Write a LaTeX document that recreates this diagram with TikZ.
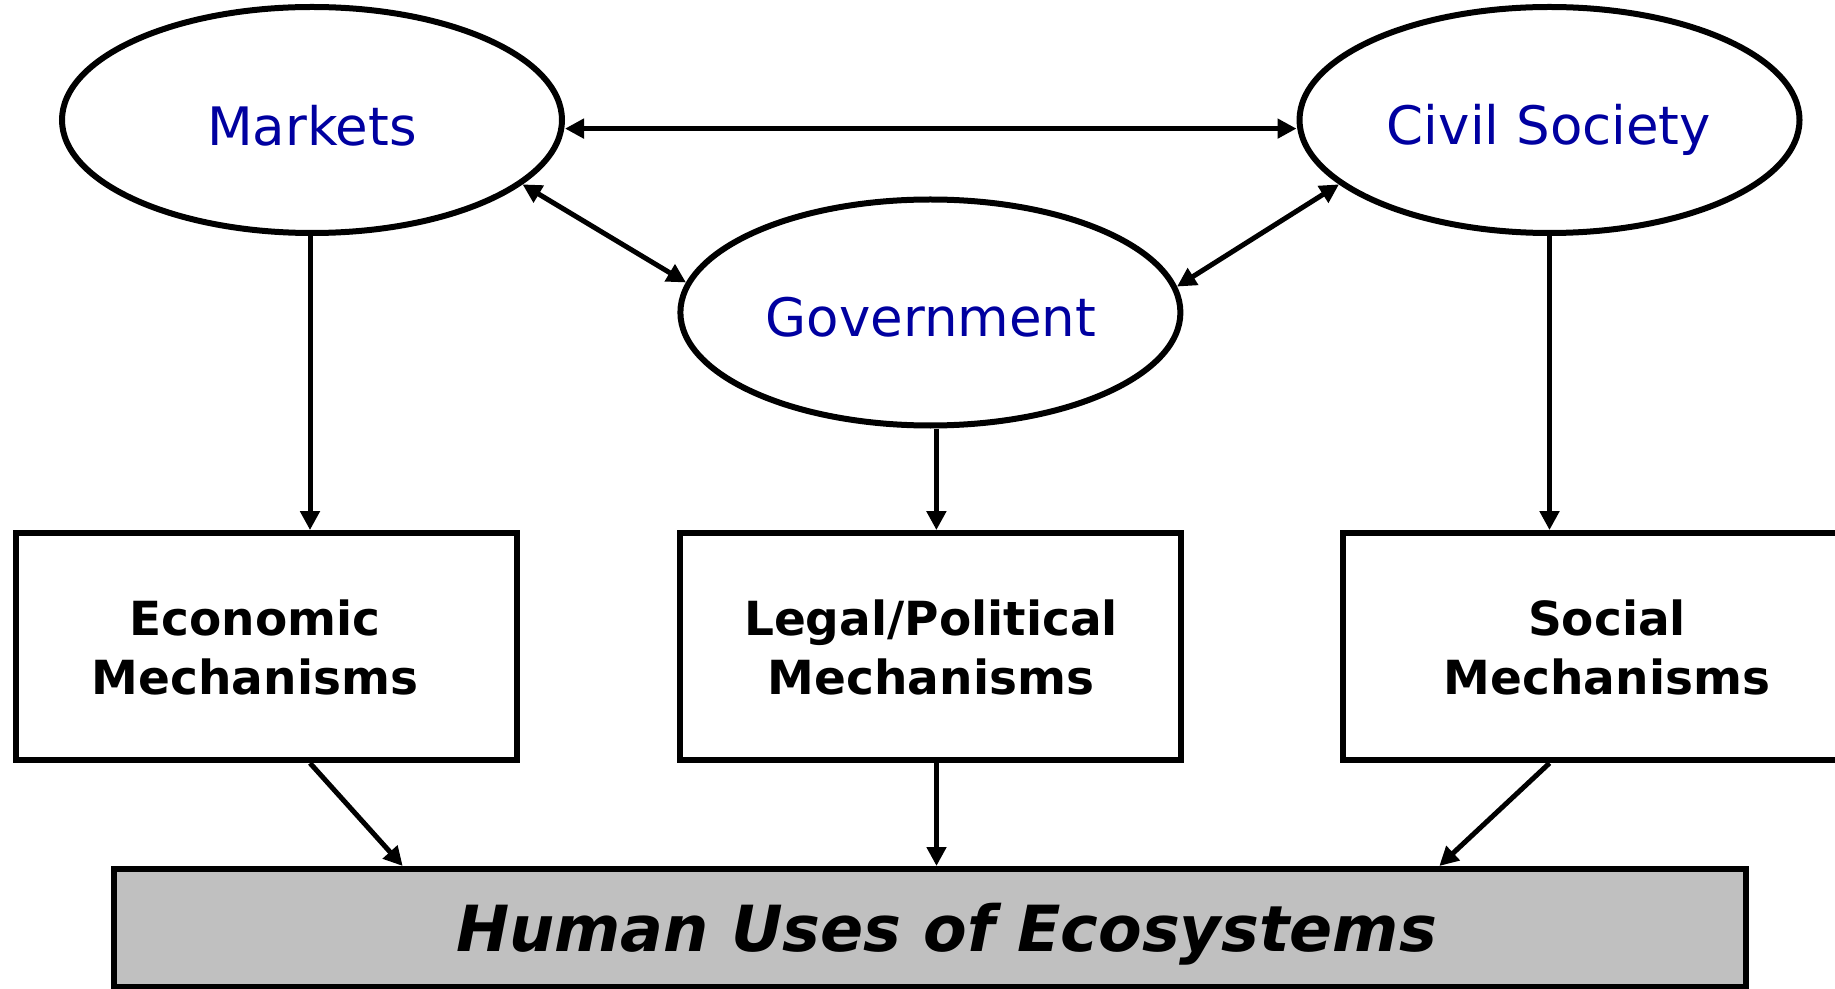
\documentclass[tikz,border=0pt]{standalone}
\usepackage{fontspec}
\setmainfont{DejaVu Sans}
\usetikzlibrary{shapes.geometric,arrows.meta}
\definecolor{ovaltext}{RGB}{0,0,160}
\definecolor{basegray}{RGB}{192,192,192}
\begin{document}
\begin{tikzpicture}[x=0.5pt,y=-0.5pt,
  oval/.style={ellipse,draw,line width=3pt,minimum width=250pt,minimum height=113pt,inner sep=0pt},
  mechbox/.style={rectangle,draw,line width=3pt,minimum width=250.5pt,minimum height=113.5pt,inner sep=0pt},
  basebox/.style={rectangle,draw,fill=basegray,line width=3pt,minimum width=816pt,minimum height=59pt,inner sep=0pt},
  ovallabel/.style={anchor=base,text=ovaltext,font=\fontsize{26.5pt}{32pt}\selectfont,inner sep=0pt},
  mechlabel/.style={anchor=base,font=\bfseries\fontsize{23.5pt}{28pt}\selectfont,inner sep=0pt},
  baselabel/.style={anchor=base,font=\bfseries\itshape\fontsize{31.8pt}{36pt}\selectfont,inner sep=0pt},
  link/.style={line width=2.5pt,-{Triangle[length=9.5pt,width=9.5pt]}},
  duallink/.style={line width=2.5pt,{Triangle[length=9.5pt,width=9.5pt]}-{Triangle[length=9.5pt,width=9.5pt]}}
]
\useasboundingbox (0,0) rectangle (1835,989);

% ovals
\node[oval] (M) at (312,120) {};
\node[oval] (C) at (1549.5,120) {};
\node[oval] (G) at (930.4,312.5) {};
\node[ovallabel] (Ml) at (312,146) {Markets};
\node[ovallabel] (Cl) at (1549,145) {Civil Society};
\node[ovallabel] (Gl) at (931,337) {Government};

% mechanism boxes
\node[mechbox] (E) at (266.5,646.6) {};
\node[mechbox] (L) at (930.5,646.6) {};
\node[mechbox] (S) at (1593.5,646.6) {};
\node[mechlabel] (E1) at (255,635.5) {Economic};
\node[mechlabel] (E2) at (255,694) {Mechanisms};
\node[mechlabel] (L1) at (931,635.5) {Legal/Political};
\node[mechlabel] (L2) at (931,694) {Mechanisms};
\node[mechlabel] (S1) at (1607,635.5) {Social};
\node[mechlabel] (S2) at (1607,694) {Mechanisms};

% base box
\node[basebox] (H) at (930.3,928) {};
\node[baselabel] (Hl) at (946.5,951) {Human Uses of Ecosystems};

% connectors among ovals
\draw[duallink] ([yshift=-4.3pt]M.east) -- ([yshift=-4.3pt]C.west);
\draw[duallink] (M.-17) -- (G.173.5);
\draw[duallink] (C.197) -- (G.6.4);

% ovals to boxes
\draw[link] ([xshift=-1pt]M.south) -- ([xshift=-1pt]M.south |- E.north);
\draw[link] ([xshift=3pt]G.south) -- ([xshift=3pt]G.south |- L.north);
\draw[link] (C.south) -- (C.south |- S.north);

% boxes to base
\draw[link] ([xshift=-1pt]M.south |- E.south) -- ([xshift=145.7pt]H.north west);
\draw[link] ([xshift=3pt]L.south) -- ([xshift=3pt]L.south |- H.north);
\draw[link] (C.south |- S.south) -- ([xshift=-155pt]H.north east);
\end{tikzpicture}
\end{document}
